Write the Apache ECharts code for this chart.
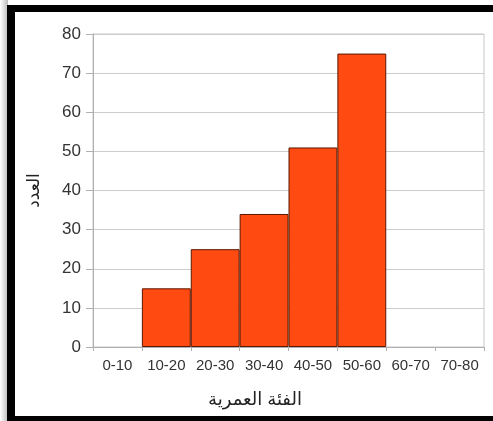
<!DOCTYPE html>
<html>
<head>
<meta charset="utf-8">
<script src="https://cdn.jsdelivr.net/npm/echarts@6/dist/echarts.min.js"></script>
<style>
html,body{margin:0;padding:0;background:#fff;}
#wrap{position:relative;width:493px;height:421px;background:#fff;overflow:hidden;}
#shadow{position:absolute;left:0;top:0;width:8px;height:421px;background:linear-gradient(to right,#fff,#bbb);}
#fl{position:absolute;left:7px;top:5px;width:8px;height:416px;background:#000;}
#ft{position:absolute;left:7px;top:5px;width:486px;height:7px;background:#000;}
#fb{position:absolute;left:7px;top:416px;width:486px;height:5px;background:#000;}
#chart{position:absolute;left:0;top:0;width:493px;height:421px;}
</style>
</head>
<body>
<div id="wrap">
<div id="shadow"></div><div id="fl"></div><div id="ft"></div><div id="fb"></div>
<div id="chart"></div>
</div>
<script>
var categories = ['0-10','10-20','20-30','30-40','40-50','50-60','60-70','70-80'];
var counts = ['-', 15, 25, 34, 51, 75, '-', '-'];
var yTicks = {min: 0, max: 80, interval: 10};
var xTitle = 'الفئة العمرية';
var yTitle = 'العدد';

var font = 'Liberation Sans, Arial, DejaVu Sans, sans-serif';
var chart = echarts.init(document.getElementById('chart'), null, {renderer: 'canvas'});
chart.setOption({
  animation: false,
  backgroundColor: 'transparent',
  grid: {left: 93, right: 9, top: 34, bottom: 74, show: true, borderColor: '#c8c8c8', borderWidth: 1, backgroundColor: 'transparent'},
  xAxis: {
    type: 'category',
    data: categories,
    boundaryGap: true,
    name: xTitle,
    nameLocation: 'middle',
    nameGap: 44,
    nameTextStyle: {fontFamily: font, fontSize: 18, color: '#222', padding: [0, 67, 0, 0]},
    axisLine: {lineStyle: {color: '#b0b0b0', width: 1}},
    axisTick: {show: true, length: 4, lineStyle: {color: '#b0b0b0'}},
    axisLabel: {fontFamily: font, fontSize: 15, color: '#333', margin: 11, interval: 0}
  },
  yAxis: {
    type: 'value',
    min: yTicks.min, max: yTicks.max, interval: yTicks.interval,
    name: yTitle,
    nameLocation: 'middle',
    nameRotate: 90,
    nameGap: 50,
    nameTextStyle: {fontFamily: font, fontSize: 17, color: '#222'},
    axisLine: {show: true, lineStyle: {color: '#b0b0b0', width: 1}},
    axisTick: {show: true, length: 7, lineStyle: {color: '#b0b0b0'}},
    axisLabel: {fontFamily: font, fontSize: 17, color: '#333', margin: 12},
    splitLine: {show: true, lineStyle: {color: '#cccccc', width: 1}}
  },
  series: [{
    type: 'bar',
    data: counts,
    barCategoryGap: '0%',
    itemStyle: {color: '#FF4A12', borderColor: '#5a1800', borderWidth: 1}
  }]
});
</script>
</body>
</html>
